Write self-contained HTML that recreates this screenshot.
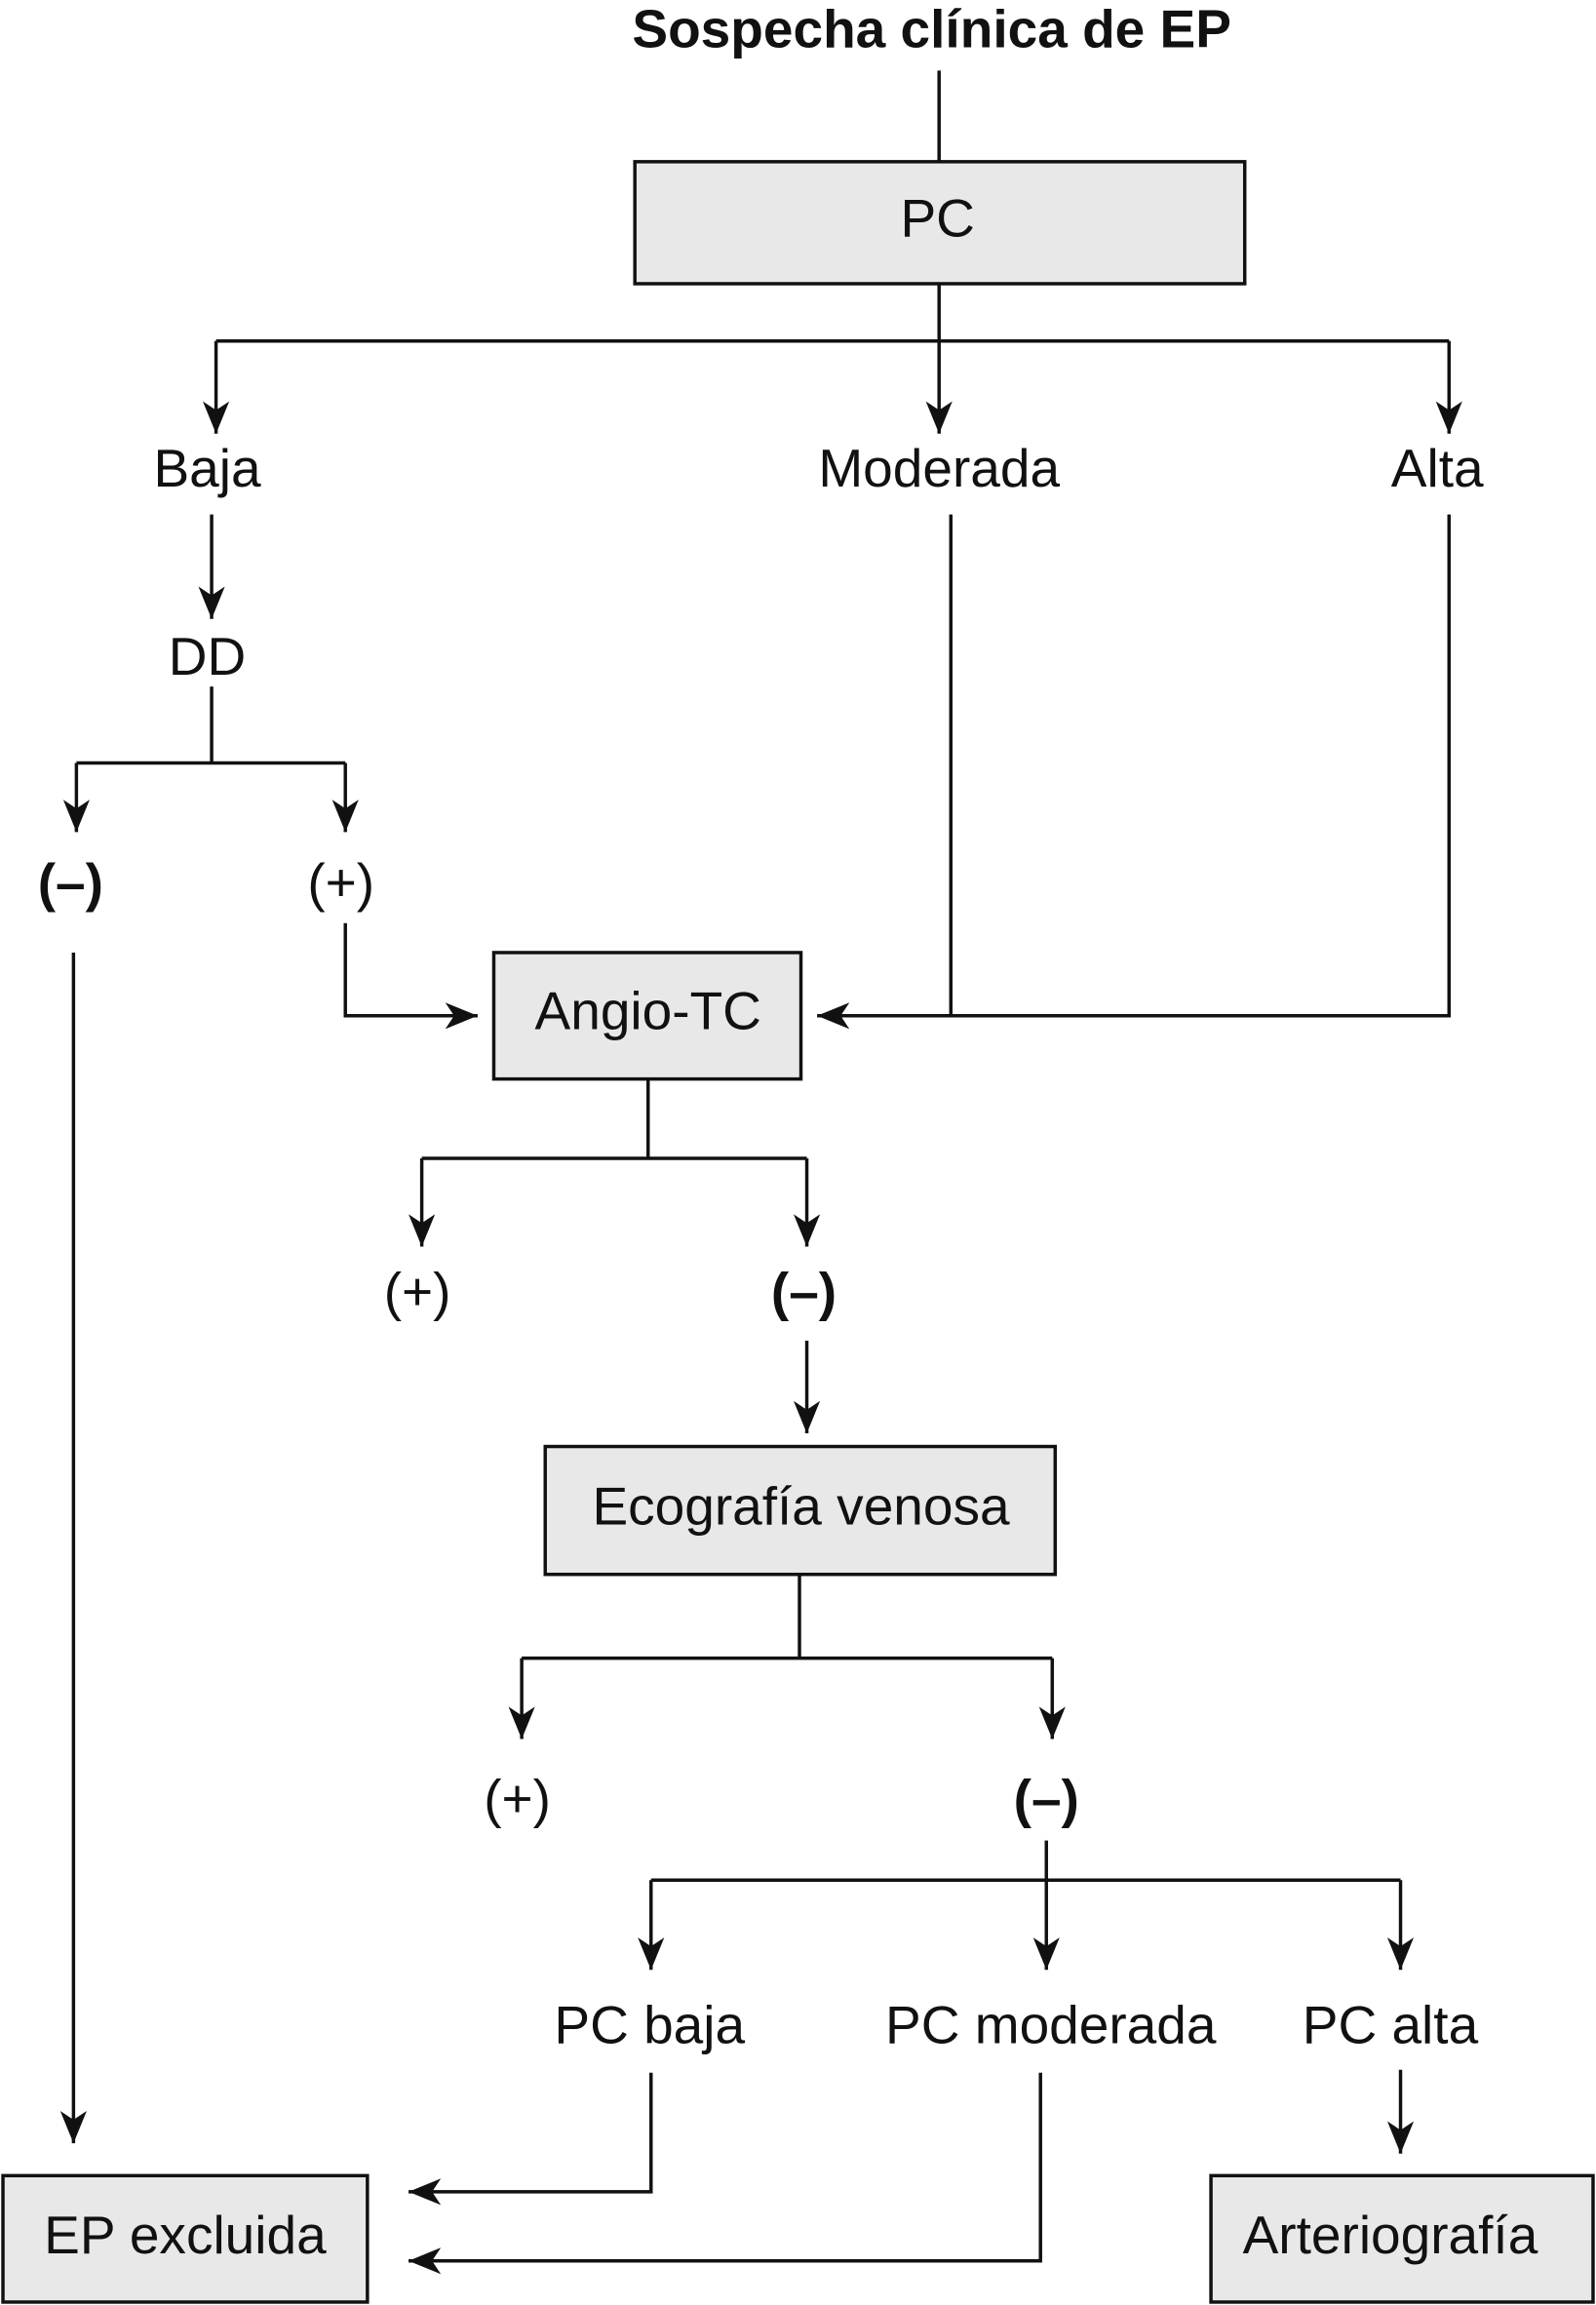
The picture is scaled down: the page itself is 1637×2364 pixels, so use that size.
<!DOCTYPE html>
<html><head><meta charset="utf-8"><style>
html,body{margin:0;padding:0;background:#fff;}
svg{display:block;}
text{font-family:"Liberation Sans",Arial,sans-serif;fill:#111;}
</style></head><body>
<svg width="1637" height="2364" viewBox="0 0 1086 1568" preserveAspectRatio="none" xmlns="http://www.w3.org/2000/svg">
<defs>
<marker id="a" markerUnits="userSpaceOnUse" markerWidth="26" markerHeight="22" refX="22" refY="9" orient="auto">
<path d="M0,0 L22,9 L0,18 L6,9 Z" fill="#111"/>
</marker>
</defs>
<g stroke="#111" stroke-width="2.3" fill="none">
<line x1="639" y1="48" x2="639" y2="110"/>
<rect x="432" y="110" width="415" height="83" fill="#e8e8e8"/>
<line x1="639" y1="193" x2="639" y2="232"/>
<line x1="147" y1="232" x2="986" y2="232"/>
<line x1="147" y1="232" x2="147" y2="295" marker-end="url(#a)"/>
<line x1="639" y1="232" x2="639" y2="295" marker-end="url(#a)"/>
<line x1="986" y1="232" x2="986" y2="295" marker-end="url(#a)"/>
<line x1="144" y1="350" x2="144" y2="421" marker-end="url(#a)"/>
<line x1="144" y1="467" x2="144" y2="519"/>
<line x1="52" y1="519" x2="235" y2="519"/>
<line x1="52" y1="519" x2="52" y2="566" marker-end="url(#a)"/>
<line x1="235" y1="519" x2="235" y2="566" marker-end="url(#a)"/>
<line x1="50" y1="648" x2="50" y2="1458" marker-end="url(#a)"/>
<polyline points="235,628 235,691 325,691" marker-end="url(#a)"/>
<rect x="336" y="648" width="209" height="86" fill="#e8e8e8"/>
<line x1="647" y1="350" x2="647" y2="691"/>
<polyline points="986,350 986,691 556,691" marker-end="url(#a)"/>
<line x1="441" y1="734" x2="441" y2="788"/>
<line x1="287" y1="788" x2="549" y2="788"/>
<line x1="287" y1="788" x2="287" y2="848" marker-end="url(#a)"/>
<line x1="549" y1="788" x2="549" y2="848" marker-end="url(#a)"/>
<line x1="549" y1="912" x2="549" y2="975" marker-end="url(#a)"/>
<rect x="371" y="984" width="347" height="87" fill="#e8e8e8"/>
<line x1="544" y1="1071" x2="544" y2="1128"/>
<line x1="355" y1="1128" x2="716" y2="1128"/>
<line x1="355" y1="1128" x2="355" y2="1183" marker-end="url(#a)"/>
<line x1="716" y1="1128" x2="716" y2="1183" marker-end="url(#a)"/>
<line x1="712" y1="1252" x2="712" y2="1340" marker-end="url(#a)"/>
<line x1="443" y1="1279" x2="953" y2="1279"/>
<line x1="443" y1="1279" x2="443" y2="1340" marker-end="url(#a)"/>
<line x1="953" y1="1279" x2="953" y2="1340" marker-end="url(#a)"/>
<line x1="953" y1="1408" x2="953" y2="1465" marker-end="url(#a)"/>
<rect x="824" y="1480" width="260" height="86" fill="#e8e8e8"/>
<rect x="2" y="1480" width="248" height="86" fill="#e8e8e8"/>
<polyline points="443,1410 443,1491 278,1491" marker-end="url(#a)"/>
<polyline points="708,1410 708,1538 278,1538" marker-end="url(#a)"/>
</g>
<g font-size="36.5" text-anchor="middle">
<text x="634" y="32" font-weight="bold" font-size="36.5">Sospecha clínica de EP</text>
<text x="638" y="161">PC</text>
<text x="141" y="331">Baja</text>
<text x="639" y="331">Moderada</text>
<text x="978" y="331">Alta</text>
<text x="141" y="459">DD</text>
<text x="48" y="613" font-weight="bold">(–)</text>
<text x="232" y="613">(+)</text>
<text x="441" y="700">Angio-TC</text>
<text x="284" y="891">(+)</text>
<text x="547" y="891" font-weight="bold">(–)</text>
<text x="545" y="1037">Ecografía venosa</text>
<text x="352" y="1236">(+)</text>
<text x="712" y="1236" font-weight="bold">(–)</text>
<text x="442" y="1390">PC baja</text>
<text x="715" y="1390">PC moderada</text>
<text x="946" y="1390">PC alta</text>
<text x="126" y="1533">EP excluida</text>
<text x="946" y="1533">Arteriografía</text>
</g>
</svg>
</body></html>
